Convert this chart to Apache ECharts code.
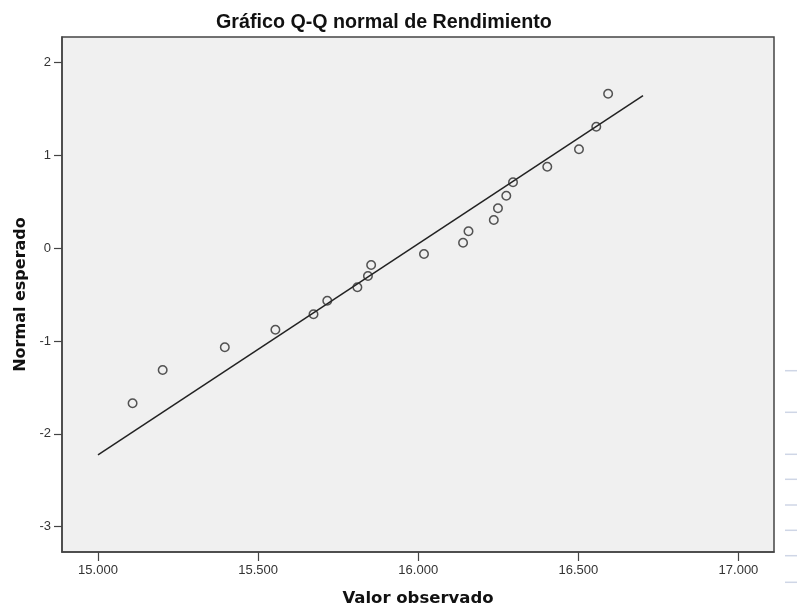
<!DOCTYPE html>
<html>
<head>
<meta charset="utf-8">
<script src="https://cdn.jsdelivr.net/npm/echarts@6/dist/echarts.min.js"></script>
<style>
  html, body { margin: 0; padding: 0; background: #ffffff; }
  #chart { width: 797px; height: 607px; }
</style>
</head>
<body>
<div id="chart"></div>
<script>
// Observed values (Rendimiento) and their expected normal quantiles
const observed = [15108, 15202, 15396, 15554, 15673, 15716, 15810, 15843, 15853, 16018,
                  16140, 16157, 16236, 16249, 16275, 16296, 16403, 16502, 16556, 16593];
const expectedNormal = [-1.670, -1.311, -1.067, -0.877, -0.711, -0.565, -0.420, -0.298, -0.180, -0.061,
                        0.060, 0.183, 0.305, 0.431, 0.567, 0.711, 0.879, 1.067, 1.310, 1.666];
// Reference line endpoints
const lineX = [15000, 16702];
const lineY = [-2.227, 1.644];
// Tick values
const xTicks = [15000, 15500, 16000, 16500, 17000];
const yTicks = [-3, -2, -1, 0, 1, 2];

const titleText = 'Gráfico Q-Q normal de Rendimiento';
const xName = 'Valor observado';
const yName = 'Normal esperado';

const pts = observed.map((v, i) => [v, expectedNormal[i]]);
const linePts = lineX.map((v, i) => [v, lineY[i]]);

function fmtThousands(v) {
  const n = Math.round(v);
  return Math.floor(n / 1000) + '.' + String(n % 1000).padStart(3, '0');
}

const chart = echarts.init(document.getElementById('chart'), null, { renderer: 'canvas' });

const dashYs = [370.7, 412.3, 454.3, 479.3, 505, 530.3, 555.7, 582.3];

chart.setOption({
  animation: false,
  backgroundColor: '#ffffff',
  title: {
    text: titleText,
    left: 211,
    top: 8,
    textStyle: { fontFamily: 'Liberation Sans, Arial, sans-serif', fontWeight: 'bold', fontSize: 19.7, color: '#111' }
  },
  grid: {
    left: 62, top: 37, right: 23, bottom: 55,
    outerBoundsMode: 'none',
    containLabel: false,
    show: true,
    backgroundColor: '#f0f0f0',
    borderColor: '#444',
    borderWidth: 1.5
  },
  xAxis: {
    type: 'value',
    min: 14887.6,
    max: 17111,
    name: xName,
    nameLocation: 'middle',
    nameGap: 38,
    nameTextStyle: { fontFamily: 'DejaVu Sans, sans-serif', fontWeight: 'bold', fontSize: 16.5, color: '#111' },
    axisLine: { show: true, onZero: false, lineStyle: { color: '#444', width: 1.5 } },
    axisTick: { show: true, length: 9, customValues: xTicks, lineStyle: { color: '#444', width: 1.2 } },
    axisLabel: {
      customValues: xTicks,
      formatter: fmtThousands,
      margin: 12,
      fontFamily: 'Liberation Sans, Arial, sans-serif',
      fontSize: 13,
      color: '#333'
    },
    splitLine: { show: false }
  },
  yAxis: {
    type: 'value',
    min: -3.273,
    max: 2.277,
    name: yName,
    nameLocation: 'middle',
    nameGap: 32,
    nameTextStyle: { fontFamily: 'DejaVu Sans, sans-serif', fontWeight: 'bold', fontSize: 16, color: '#111' },
    axisLine: { show: true, onZero: false, lineStyle: { color: '#444', width: 1.5 } },
    axisTick: { show: true, length: 8, customValues: yTicks, lineStyle: { color: '#444', width: 1.2 } },
    axisLabel: {
      customValues: yTicks,
      formatter: v => String(Math.round(v)),
      margin: 11,
      fontFamily: 'Liberation Sans, Arial, sans-serif',
      fontSize: 13,
      color: '#333'
    },
    splitLine: { show: false }
  },
  graphic: dashYs.map(y => ({
    type: 'line',
    shape: { x1: 785, y1: y, x2: 797, y2: y },
    style: { stroke: '#cfd6e6', lineWidth: 1.5 },
    silent: true
  })),
  series: [
    {
      type: 'line',
      data: linePts,
      symbol: 'none',
      lineStyle: { color: '#222', width: 1.5 },
      z: 2,
      silent: true
    },
    {
      type: 'scatter',
      data: pts,
      symbol: 'circle',
      symbolSize: 8.5,
      itemStyle: { color: 'rgba(0,0,0,0)', borderColor: '#2a2a2a', borderWidth: 1.5 },
      z: 3
    }
  ]
});
</script>
</body>
</html>
